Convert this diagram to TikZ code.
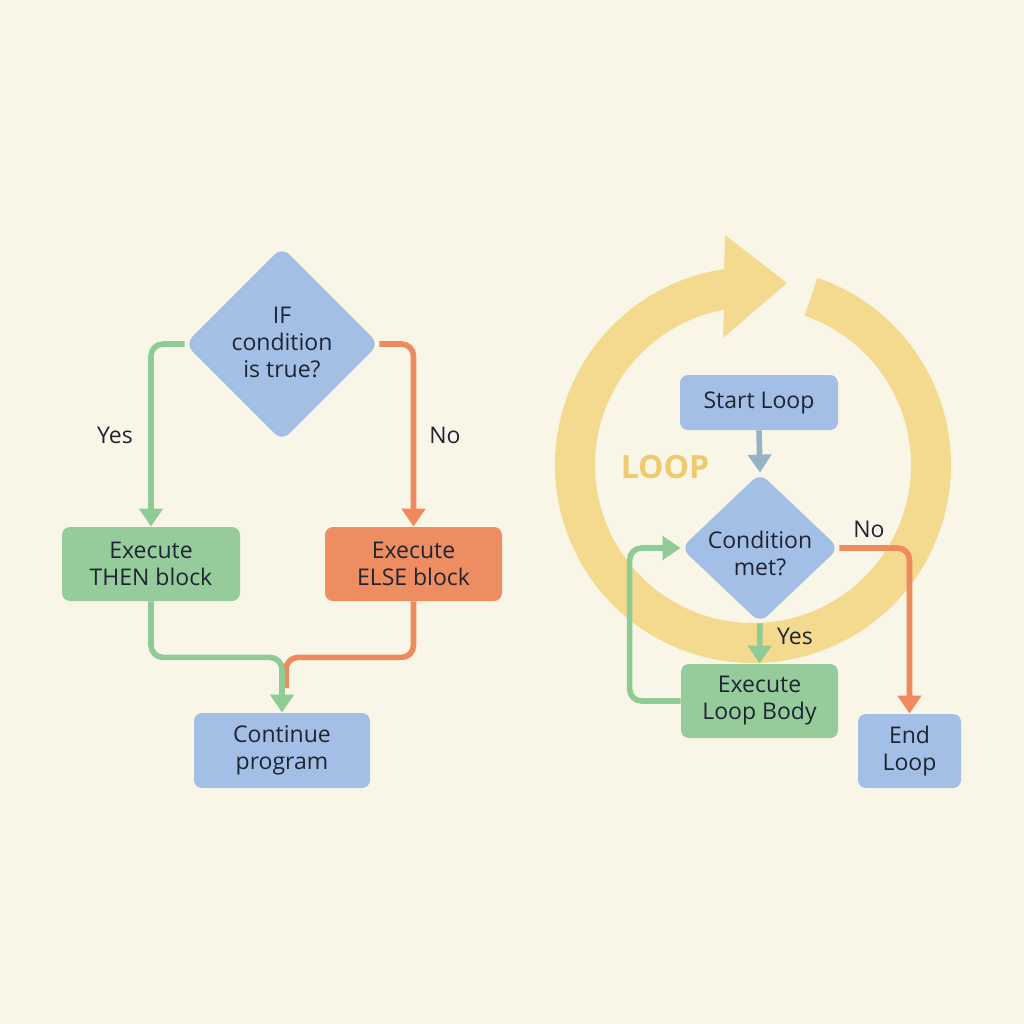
\documentclass[tikz,border=0pt]{standalone}
\usepackage{fontspec}
\setmainfont{Open Sans}
\usetikzlibrary{shapes.geometric,arrows.meta,calc}
\definecolor{bgc}{HTML}{FAF6E7}
\definecolor{blueF}{HTML}{A3BFE5}
\definecolor{greenF}{HTML}{96CC9C}
\definecolor{orangeF}{HTML}{EE8D62}
\definecolor{greenL}{HTML}{8FCB95}
\definecolor{orangeL}{HTML}{EE8A5E}
\definecolor{steelL}{HTML}{94B3C4}
\definecolor{ringc}{HTML}{F4DA8E}
\definecolor{loopc}{HTML}{EECB6F}
\definecolor{txtc}{HTML}{1F2433}
\newcommand\lblfont{\fontsize{11.5}{13.5}\selectfont}
\tikzset{
  txt/.style={align=center, inner sep=0pt, font=\lblfont, text=txtc},
  box/.style={rectangle, rounded corners=4pt, minimum height=37pt, align=center, inner sep=0pt, font=\lblfont, text=txtc},
  dia/.style={diamond, rounded corners=5pt, inner sep=0pt, fill=blueF},
  conn/.style={line width=2.8pt, rounded corners=6pt, -{Triangle[width=11.5pt,length=9pt]}},
  plain/.style={line width=2.8pt, rounded corners=6pt}
}
\begin{document}
\begin{tikzpicture}[x=0.5pt,y=-0.5pt]
\fill[bgc] (0,0) rectangle (1024,1024);
\useasboundingbox (0,0) rectangle (1024,1024);
% loop ring
\coordinate (rc) at (753,465);
\fill[ringc] ($(rc)+(-71:198)$) arc[start angle=-71, end angle=261.6, radius=198]
  -- (725,235) -- (787,283) -- (723,338) -- ($(rc)+(259.4:158)$)
  arc[start angle=259.4, end angle=-71, radius=158] -- cycle;
\node[font=\fontsize{16}{18}\selectfont\bfseries, text=loopc, inner sep=0pt] (looplbl) at (665,467) {LOOP};
% left flowchart
\node[dia, minimum width=97pt, minimum height=97pt] (if) at (282,344) {};
\node[txt] (iftxt) at (282,342) {IF\\condition\\is true?};
\node[box, fill=greenF, minimum width=89pt] (then) at (151,564) {Execute\\THEN block};
\node[box, fill=orangeF, minimum width=88.5pt] (else) at (413.5,564) {Execute\\ELSE block};
\node[box, fill=blueF, minimum width=88pt, minimum height=37.5pt] (cont) at (282,750.5) {Continue\\program};
\node[txt] (yesA) at (115,435) {Yes};
\node[txt] (noA) at (445,435) {No};
\draw[conn, greenL] (if.west) -| (then.north);
\draw[conn, orangeL] (if.east) -| (else.north);
\coordinate (mergeO) at (286,688);
\draw[plain, orangeL] (else.south) -- ++(0,56) -| (mergeO);
\draw[conn, greenL] (then.south) -- ++(0,56) -| (cont.north);
% right flowchart
\node[box, fill=blueF, minimum width=79pt, minimum height=27.5pt] (start) at (759,402.5) {Start Loop};
\node[dia, minimum width=79pt, minimum height=75pt] (cond) at (760,548) {};
\node[txt] (condtxt) at (760,553) {Condition\\met?};
\node[box, fill=greenF, minimum width=78.5pt] (body) at (759.5,701) {Execute\\Loop Body};
\node[box, fill=blueF, minimum width=51.5pt] (end) at (909.5,751) {End\\Loop};
\node[txt] (noB) at (869,529) {No};
\node[txt] (yesB) at (795,636) {Yes};
\draw[conn, steelL] (start.south) -- (cond.north);
\draw[conn, greenL] (cond.south) -- (body.north);
\draw[conn, greenL] (body.west) -- ++(-51,0) |- (cond.west);
\draw[conn, orangeL] (cond.east) -| (end.north);
\end{tikzpicture}
\end{document}
